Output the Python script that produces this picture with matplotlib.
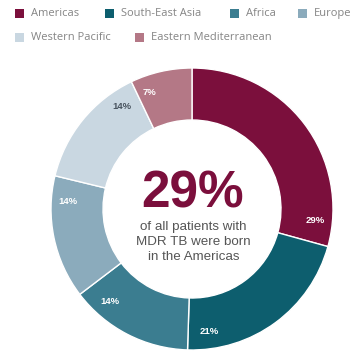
import matplotlib
matplotlib.use("Agg")
import matplotlib.pyplot as plt
from matplotlib.patches import Rectangle
import numpy as np

# Share of MDR TB patients by WHO region of birth
regions = ["Americas", "South-East Asia", "Africa", "Europe",
           "Western Pacific", "Eastern Mediterranean"]
shares = [29, 21, 14, 14, 14, 7]
labels = ["29%", "21%", "14%", "14%", "14%", "7%"]

colors = ["#7b0f3c", "#0d5e6e", "#3b7d90", "#8babbc", "#c9d7e1", "#b47886"]
label_colors = ["white", "white", "white", "white", "#4a5560", "white"]
# degrees back from each wedge's clockwise end where its label sits
label_back = [10, 10, 11, 10, 9, 20]

W, H = 354, 356
fig = plt.figure(figsize=(W / 100, H / 100), dpi=100)
fig.patch.set_facecolor("white")
ax = fig.add_axes([0, 0, 1, 1])
ax.axis("off")

cx, cy = 192, H - 209
R = 141
width = 52

wedges, _ = ax.pie(shares, colors=colors, startangle=90, counterclock=False,
                   radius=R, center=(cx, cy),
                   wedgeprops=dict(width=width, edgecolor="white", linewidth=1.0))
ax.set_xlim(0, W)
ax.set_ylim(0, H)
ax.set_aspect("equal")

font = ["Liberation Sans", "DejaVu Sans"]
legend_font = ["Open Sans", "DejaVu Sans"]

# wedge labels near the clockwise end of each wedge
for w, lab, lc, back in zip(wedges, labels, label_colors, label_back):
    ang = np.deg2rad(w.theta1 + back)
    r = R - 17
    ax.text(cx + r * np.cos(ang), cy + r * np.sin(ang), lab,
            ha="center", va="center", fontsize=6.8, fontweight="bold",
            color=lc, family=font)

# centre headline
ax.text(cx + 0.5, H - 188.5, labels[0], ha="center", va="center_baseline",
        fontsize=37, fontweight="bold", color=colors[0], family=font)
for i, line in enumerate(["of all patients with", "MDR TB were born",
                          "in the Americas"]):
    ax.text(cx + 1.5, H - 227 - 15 * i, line, ha="center", va="center",
            fontsize=9.6, color="#555555", family=font)

# legend laid out in two rows
legend_pos = [(15, 13.5), (105, 13.5), (230, 13.5), (298, 13.5),
              (15, 37), (135, 37)]
for (x, y), name, c in zip(legend_pos, regions, colors):
    ax.add_patch(Rectangle((x, H - y - 4.5), 9, 9, facecolor=c,
                           edgecolor="none"))
    ax.text(x + 16, H - y, name, ha="left", va="center", fontsize=8,
            color="#858585", family=legend_font)

fig.savefig("out.png", dpi=100, facecolor="white")
